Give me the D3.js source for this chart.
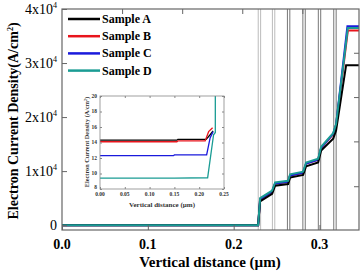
<!DOCTYPE html>
<html>
<head>
<meta charset="utf-8">
<script src="https://cdn.jsdelivr.net/npm/d3@7"></script>
<style>
  body { margin: 0; background: #fff; }
</style>
</head>
<body>
<div id="chart"></div>
<script>
// Main chart data (x in µm, y in A/cm²)
const seriesNames = ["Sample A", "Sample B", "Sample C", "Sample D"];
const seriesColors = ["#000000", "#e8141c", "#1a1adc", "#1a9c94"];

const sampleA = [[0, 0], [0.2285, 0], [0.2308, 4400], [0.2448, 5800], [0.2483, 7300], [0.2634, 7600], [0.2657, 8800], [0.2809, 9300], [0.2844, 10900], [0.2984, 11600], [0.3019, 13800], [0.3159, 16000], [0.3193, 17500], [0.3310, 29600], [0.346, 29600]];
const sampleB = [[0, 0], [0.2285, 0], [0.2308, 4800], [0.2448, 6200], [0.2483, 7700], [0.2634, 8000], [0.2657, 9200], [0.2809, 9700], [0.2844, 11400], [0.2984, 12100], [0.3019, 14300], [0.3159, 16800], [0.3193, 18500], [0.3330, 36000], [0.346, 36000]];
const sampleC = [[0, 0], [0.2285, 0], [0.2308, 4800], [0.2448, 6200], [0.2483, 7700], [0.2634, 8000], [0.2657, 9200], [0.2809, 9700], [0.2844, 11400], [0.2984, 12100], [0.3019, 14300], [0.3159, 16900], [0.3193, 18600], [0.3325, 36800], [0.346, 36800]];
const sampleD = [[0, 0], [0.2285, 0], [0.2308, 5000], [0.2448, 6400], [0.2483, 7900], [0.2634, 8200], [0.2657, 9400], [0.2809, 9900], [0.2844, 11600], [0.2984, 12300], [0.3019, 14500], [0.3159, 17000], [0.3193, 18700], [0.3330, 36500], [0.346, 36500]];

const layerLines = [0.2300, 0.2465, 0.2640, 0.2820, 0.3000, 0.3180];
const layerColors = ["#bbbbbb", "#bbbbbb", "#777777", "#777777", "#777777", "#777777"];

const xTicks = [0.0, 0.1, 0.2, 0.3];
const yTicks = [0, 10000, 20000, 30000, 40000];
const topTicks = [0.07, 0.14, 0.21, 0.28];
const rightTicks = [7200, 15500, 23700, 31900];

// Inset data
const insetA = [[0, 14.3], [0.155, 14.3], [0.157, 14.4], [0.214, 14.4], [0.222, 15.0], [0.228, 15.5]];
const insetB = [[0, 14.1], [0.155, 14.1], [0.157, 14.2], [0.212, 14.2], [0.219, 15.4], [0.227, 15.9]];
const insetC = [[0, 12.3], [0.148, 12.3], [0.150, 12.4], [0.215, 12.4], [0.222, 14.6], [0.228, 15.4]];
const insetD = [[0, 9.4], [0.150, 9.4], [0.217, 9.45], [0.229, 15.0], [0.2325, 15.3], [0.2325, 21]];
const insetXTicks = [0.00, 0.05, 0.10, 0.15, 0.20, 0.25];
const insetYTicks = [8, 10, 12, 14, 16, 18, 20];

const W = 363, H = 272;
const FONT = '"Liberation Serif", "Times New Roman", serif';
const svg = d3.select("#chart").append("svg")
    .attr("width", W).attr("height", H);

const x = d3.scaleLinear().domain([0, 0.346]).range([62, 359]);
const y = d3.scaleLinear().domain([-900, 40000]).range([230, 9]);

// layer boundary lines (drawn as double thin lines)
layerLines.forEach((v, i) => {
    [-1.2, 1.2].forEach(off => {
        svg.append("line")
            .attr("x1", x(v) + off).attr("x2", x(v) + off)
            .attr("y1", y.range()[1]).attr("y2", y.range()[0])
            .attr("stroke", layerColors[i]).attr("stroke-width", 1);
    });
});

// main curves
const line = d3.line().x(d => x(d[0])).y(d => y(d[1]));
const mainData = [sampleA, sampleB, sampleC, sampleD];
[1, 2, 0, 3].forEach(i => {
    svg.append("path")
        .attr("d", line(mainData[i]))
        .attr("fill", "none")
        .attr("stroke", seriesColors[i])
        .attr("stroke-width", 2);
});

// frame
svg.append("rect")
    .attr("x", 62).attr("y", 9).attr("width", 297).attr("height", 221)
    .attr("fill", "none").attr("stroke", "#666").attr("stroke-width", 1.2);

// axes with inward ticks
svg.append("g").attr("transform", "translate(0,230)")
    .call(d3.axisBottom(x).tickValues(xTicks).tickSize(-5).tickFormat(""))
    .call(g => g.select(".domain").remove())
    .selectAll("line").attr("stroke", "#666");
svg.append("g").attr("transform", "translate(62,0)")
    .call(d3.axisLeft(y).tickValues(yTicks).tickSize(-5).tickFormat(""))
    .call(g => g.select(".domain").remove())
    .selectAll("line").attr("stroke", "#666");
svg.append("g").attr("transform", "translate(0,9)")
    .call(d3.axisTop(x).tickValues(topTicks).tickSize(-5).tickFormat(""))
    .call(g => g.select(".domain").remove())
    .selectAll("line").attr("stroke", "#666");
svg.append("g").attr("transform", "translate(359,0)")
    .call(d3.axisRight(y).tickValues(rightTicks).tickSize(-5).tickFormat(""))
    .call(g => g.select(".domain").remove())
    .selectAll("line").attr("stroke", "#666");

// x tick labels
svg.selectAll(".xlab").data(xTicks).enter().append("text")
    .attr("x", d => x(d)).attr("y", 249)
    .attr("text-anchor", "middle").attr("font-weight", "bold").attr("font-size", 14)
    .text(d => d.toFixed(1));

// y tick labels
yTicks.forEach(v => {
    const t = svg.append("text")
        .attr("x", 57).attr("y", y(v) + 5)
        .attr("text-anchor", "end").attr("font-size", 14);
    if (v === 0) {
        t.text("0");
    } else {
        t.append("tspan").text((v / 10000) + "x10");
        t.append("tspan").attr("dy", -6).attr("font-size", 8).text("4");
    }
});

// axis titles
svg.append("text")
    .attr("x", 210).attr("y", 267)
    .attr("text-anchor", "middle").attr("font-weight", "bold").attr("font-size", 15)
    .text("Vertical distance (µm)");
const yt = svg.append("text")
    .attr("transform", "translate(18,121) rotate(-90)")
    .attr("text-anchor", "middle").attr("font-weight", "bold").attr("font-size", 14);
yt.append("tspan").text("Electron Current Density(A/cm");
yt.append("tspan").attr("dy", -5).attr("font-size", 8).text("2");
yt.append("tspan").attr("dy", 5).text(")");

// legend
seriesNames.forEach((name, i) => {
    const ly = 19 + i * 17.2;
    svg.append("line")
        .attr("x1", 68).attr("x2", 100).attr("y1", ly).attr("y2", ly)
        .attr("stroke", seriesColors[i]).attr("stroke-width", 2.5);
    svg.append("text")
        .attr("x", 102).attr("y", ly + 4)
        .attr("font-weight", "bold").attr("font-size", 12)
        .text(name);
});

// inset
const ix = d3.scaleLinear().domain([0, 0.25]).range([100, 224]);
const iy = d3.scaleLinear().domain([8, 20]).range([189, 96]);
const inset = svg.append("g");
inset.append("rect")
    .attr("x", 100).attr("y", 96).attr("width", 124).attr("height", 93)
    .attr("fill", "#fff");
inset.append("clipPath").attr("id", "iclip")
    .append("rect").attr("x", 100).attr("y", 96).attr("width", 124).attr("height", 93);

const iline = d3.line().x(d => ix(d[0])).y(d => iy(d[1]));
const insetData = [insetA, insetB, insetC, insetD];
[0, 1, 2, 3].forEach(i => {
    inset.append("path")
        .attr("d", iline(insetData[i]))
        .attr("clip-path", "url(#iclip)")
        .attr("fill", "none")
        .attr("stroke", seriesColors[i])
        .attr("stroke-width", 1.3);
});
inset.append("rect")
    .attr("x", 100).attr("y", 96).attr("width", 124).attr("height", 93)
    .attr("fill", "none").attr("stroke", "#888").attr("stroke-width", 0.8);

inset.append("g").attr("transform", "translate(0,189)")
    .call(d3.axisBottom(ix).tickValues(insetXTicks).tickSize(-2).tickFormat(""))
    .call(g => g.select(".domain").remove())
    .selectAll("line").attr("stroke", "#888");
inset.append("g").attr("transform", "translate(0,96)")
    .call(d3.axisTop(ix).tickValues(insetXTicks).tickSize(-2).tickFormat(""))
    .call(g => g.select(".domain").remove())
    .selectAll("line").attr("stroke", "#888");
inset.append("g").attr("transform", "translate(100,0)")
    .call(d3.axisLeft(iy).tickValues(insetYTicks).tickSize(-2).tickFormat(""))
    .call(g => g.select(".domain").remove())
    .selectAll("line").attr("stroke", "#888");
inset.append("g").attr("transform", "translate(224,0)")
    .call(d3.axisRight(iy).tickValues(insetYTicks).tickSize(-2).tickFormat(""))
    .call(g => g.select(".domain").remove())
    .selectAll("line").attr("stroke", "#888");

inset.selectAll(".ixl").data(insetXTicks).enter().append("text")
    .attr("x", d => ix(d)).attr("y", 196)
    .attr("text-anchor", "middle").attr("font-size", 5.5).attr("font-weight", "bold").attr("fill", "#333")
    .text(d => d.toFixed(2));
inset.selectAll(".iyl").data(insetYTicks).enter().append("text")
    .attr("x", 97).attr("y", d => iy(d) + 1.8 - (d === 8 ? 1.5 : 0))
    .attr("text-anchor", "end").attr("font-size", 5.5).attr("font-weight", "bold").attr("fill", "#333")
    .text(d => d);

inset.append("text")
    .attr("x", 162).attr("y", 207)
    .attr("text-anchor", "middle").attr("font-weight", "bold").attr("font-size", 7).attr("fill", "#333")
    .text("Vertical distance (µm)");
const iyt = inset.append("text")
    .attr("transform", "translate(89,142) rotate(-90)")
    .attr("text-anchor", "middle").attr("font-weight", "bold").attr("font-size", 6.3).attr("fill", "#333");
iyt.append("tspan").text("Electron Current Density (A/cm");
iyt.append("tspan").attr("dy", -2).attr("font-size", 4).text("2");
iyt.append("tspan").attr("dy", 2).text(")");

// apply the serif face to every text element
svg.selectAll("text").style("font-family", FONT);
</script>
</body>
</html>
